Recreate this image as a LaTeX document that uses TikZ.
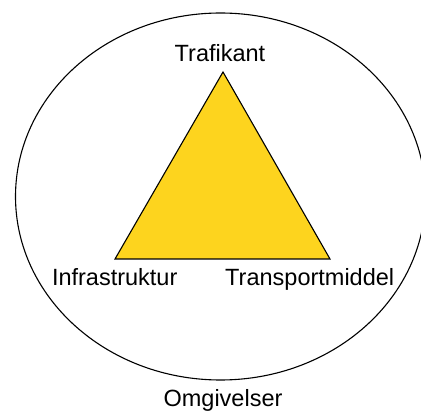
\documentclass[tikz,border=0pt]{standalone}
\usepackage{fontspec}
\setmainfont{Liberation Sans}
\definecolor{triyellow}{RGB}{253,212,30}
\begin{document}
\begin{tikzpicture}[x=1pt,y=-1pt,
  outline/.style={draw=black,line width=1.1pt},
  label/.style={anchor=base,inner sep=0pt,font=\fontsize{23.5}{28}\selectfont}]
  \useasboundingbox (0,0) rectangle (421,414);
  \clip (0,0) rectangle (421,414);
  % surroundings
  \draw[outline] (220.5,196.5) ellipse [x radius=205, y radius=183.5];
  % triangle of road user, infrastructure and vehicle
  \coordinate (top) at (223,72);
  \coordinate (left) at (115,259);
  \coordinate (right) at (330,259);
  \filldraw[outline,fill=triyellow,line join=miter] (top) -- (right) -- (left) -- cycle;
  % labels
  \node[label] (trafikant) at (220,62) {Trafikant};
  \node[label] (infra) at (114.7,286) {Infrastruktur};
  \node[label] (transport) at (309.7,286) {Transportmiddel};
  \node[label] (omgivelser) at (223,407) {Omgivelser};
\end{tikzpicture}
\end{document}
